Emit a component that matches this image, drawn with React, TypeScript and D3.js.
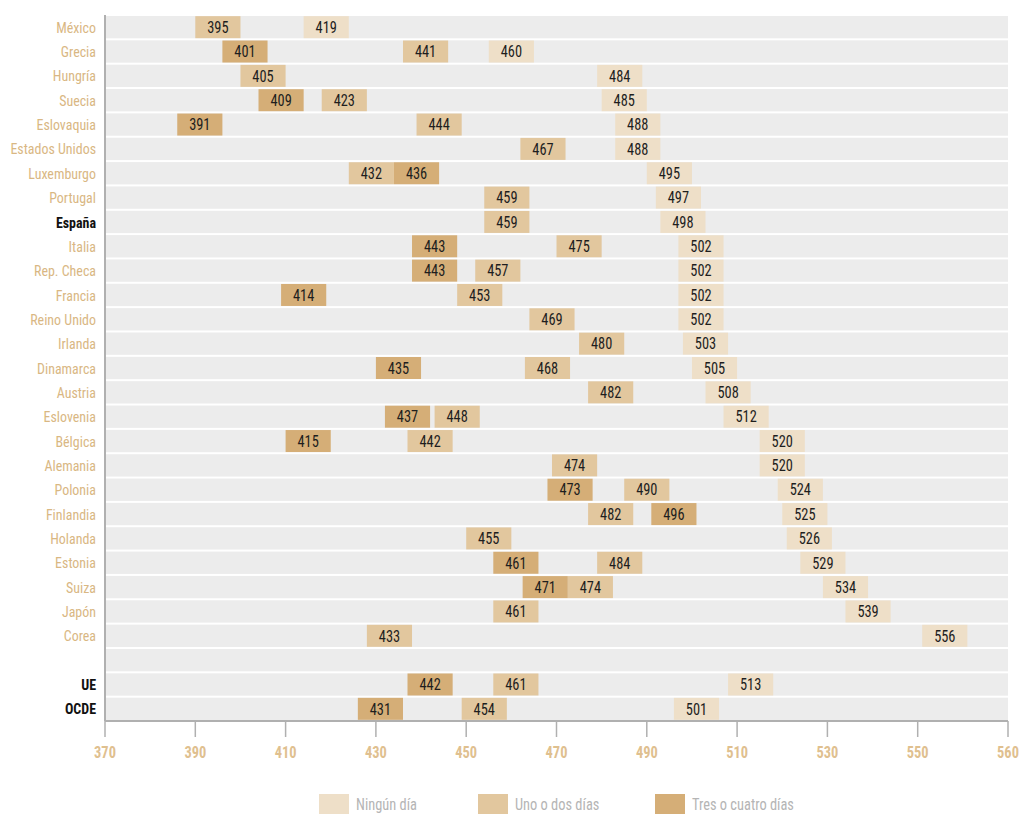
import React from "react";
import * as d3 from "d3";

const categories = [
  "México", "Grecia", "Hungría", "Suecia", "Eslovaquia", "Estados Unidos", "Luxemburgo",
  "Portugal", "España", "Italia", "Rep. Checa", "Francia", "Reino Unido", "Irlanda",
  "Dinamarca", "Austria", "Eslovenia", "Bélgica", "Alemania", "Polonia", "Finlandia",
  "Holanda", "Estonia", "Suiza", "Japón", "Corea", "", "UE", "OCDE",
];
const highlighted = ["España", "UE", "OCDE"];

// Ningún día
const ningun: (number | null)[] = [
  419, 460, 484, 485, 488, 488, 495, 497, 498, 502, 502, 502, 502, 503,
  505, 508, 512, 520, 520, 524, 525, 526, 529, 534, 539, 556, null, 513, 501,
];
// Uno o dos días
const uno: (number | null)[] = [
  395, 441, 405, 423, 444, 467, 432, 459, 459, 475, 457, 453, 469, 480,
  468, 482, 448, 442, 474, 490, 482, 455, 484, 474, 461, 433, null, 461, 454,
];
// Tres o cuatro días
const tres: (number | null)[] = [
  null, 401, null, 409, 391, null, 436, null, null, 443, 443, 414, null, null,
  435, null, 437, 415, null, 473, 496, null, 461, 471, null, null, null, 442, 431,
];

const seriesNames = ["Ningún día", "Uno o dos días", "Tres o cuatro días"];
const seriesColors = ["#eedfc8", "#e2c79e", "#d5ae77"];
const seriesValues = [ningun, uno, tres];

const tickValues = [370, 390, 410, 430, 450, 470, 490, 510, 530, 550, 570];
const tickLabels = ["370", "390", "410", "430", "450", "470", "490", "510", "530", "550", "560"];

const FONT = "'Liberation Sans Narrow', 'Arial Narrow', 'Roboto Condensed', 'Liberation Sans', Arial, sans-serif";

function Txt(props: {
  x: number; y: number; sx?: number; size: number; anchor?: string; weight?: string;
  fill: string; dy?: string; children: React.ReactNode;
}) {
  const sx = props.sx ?? 0.92;
  return (
    <text
      transform={`translate(${props.x},${props.y}) scale(${sx},1)`}
      dy={props.dy}
      textAnchor={props.anchor ?? "start"}
      fontSize={props.size}
      fontWeight={props.weight ?? "normal"}
      fill={props.fill}
    >
      {props.children}
    </text>
  );
}

export default function App() {
  const width = 1022;
  const height = 814;
  const left = 105;
  const right = 1008;
  const top = 15;
  const bottom = 721;

  const x = d3.scaleLinear().domain([370, 570]).range([left, right]);
  const y = d3
    .scaleBand<string>()
    .domain(categories.map((_, i) => String(i)))
    .range([top, bottom])
    .paddingInner(0);
  const bw = y.bandwidth();
  const barH = 22;
  const halfW = 5; // bar half-width in data units

  const bars: { row: number; s: number; v: number; cx: number }[] = [];
  const wPx = x(370 + 2 * halfW) - x(370);
  categories.forEach((_, i) => {
    const rowBars: { row: number; s: number; v: number; cx: number }[] = [];
    seriesValues.forEach((arr, s) => {
      const v = arr[i];
      if (v != null) rowBars.push({ row: i, s, v, cx: x(v) });
    });
    rowBars.sort((a, b) => a.v - b.v);
    for (let k = 1; k < rowBars.length; k++) {
      const prev = rowBars[k - 1];
      const cur = rowBars[k];
      const gap = cur.cx - prev.cx;
      if (gap < wPx) {
        const push = (wPx - gap) / 2;
        prev.cx -= push;
        cur.cx += push;
      }
    }
    bars.push(...rowBars);
  });
  bars.sort((a, b) => a.s - b.s);

  return (
    <svg
      width={width}
      height={height}
      style={{ position: "absolute", left: 0, top: 0, background: "#fff" }}
      fontFamily={FONT}
    >
      {categories.map((_, i) => (
        <rect
          key={"bg" + i}
          x={left}
          y={(y(String(i)) as number) + 1}
          width={right - left}
          height={bw - 2}
          fill="#ececec"
        />
      ))}

      {bars.map((b, k) => {
        const yc = (y(String(b.row)) as number) + bw / 2;
        return (
          <g key={"b" + k}>
            <rect x={b.cx - wPx / 2} y={yc - barH / 2} width={wPx} height={barH} fill={seriesColors[b.s]} />
            <Txt x={b.cx} y={yc} dy="0.36em" anchor="middle" size={16} sx={0.9} fill="#1e1e1e">
              {b.v}
            </Txt>
          </g>
        );
      })}

      {categories.map((c, i) => (
        <Txt
          key={"c" + i}
          x={96}
          y={(y(String(i)) as number) + bw / 2}
          dy="0.36em"
          anchor="end"
          size={15.5}
          sx={0.9}
          weight={highlighted.includes(c) ? "bold" : "normal"}
          fill={highlighted.includes(c) ? "#111" : "#d9b783"}
        >
          {c}
        </Txt>
      ))}

      <line x1={left} x2={left} y1={top} y2={bottom} stroke="#b0b0b0" strokeWidth={2} />
      <line x1={left} x2={right} y1={bottom} y2={bottom} stroke="#b0b0b0" strokeWidth={2} />
      {tickValues.map((t, i) => (
        <g key={"t" + i}>
          <line x1={x(t)} x2={x(t)} y1={bottom} y2={bottom + 16} stroke="#b0b0b0" strokeWidth={1.5} />
          <Txt x={x(t)} y={758} anchor="middle" size={16} sx={0.9} weight="bold" fill="#dfc08f">
            {tickLabels[i]}
          </Txt>
        </g>
      ))}

      {seriesNames.map((n, i) => {
        const lx = [319, 478, 655][i];
        return (
          <g key={"l" + i}>
            <rect x={lx} y={794} width={30} height={20} fill={seriesColors[i]} />
            <Txt x={lx + 37} y={810} size={16} sx={0.9} fill="#b5b5b5">
              {n}
            </Txt>
          </g>
        );
      })}
    </svg>
  );
}
